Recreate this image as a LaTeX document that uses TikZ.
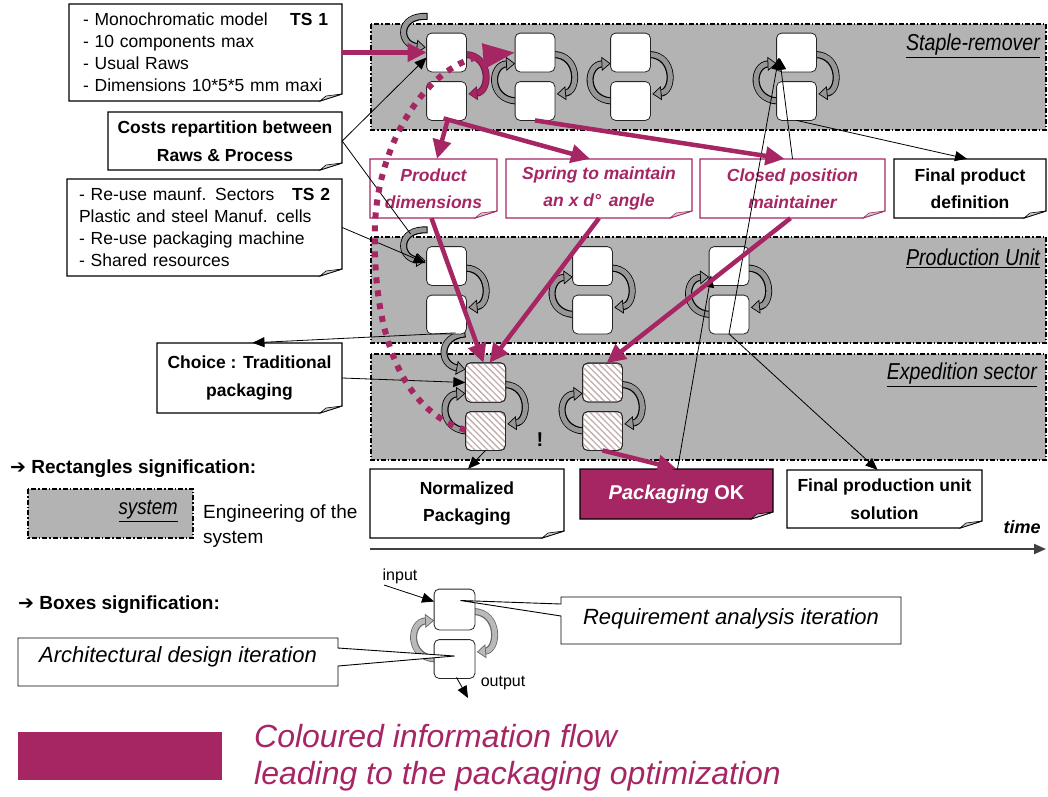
\documentclass[tikz,border=0pt]{standalone}
\usepackage{fontspec}
\setmainfont{Liberation Sans}
\newfontfamily\narrowfont[FakeStretch=0.85]{Liberation Sans}
\newfontfamily\symfont{DejaVu Sans}
\usetikzlibrary{arrows.meta,calc,patterns.meta}
\definecolor{mag}{RGB}{166,38,100}
\definecolor{bandgray}{RGB}{179,179,179}
\definecolor{ribgray}{RGB}{150,150,150}
\definecolor{hatch}{RGB}{195,172,172}
\definecolor{foldgray}{RGB}{205,205,205}
\newcommand\fs[2]{\fontsize{#1}{#2}\selectfont}
% ribbon arrow: fill, outline, start, c1, c2, end (coordinate names)
\newcommand\rib[6]{%
  \draw[line width=7pt, #2, shorten >=8pt] (#3) .. controls (#4) and (#5) .. (#6);
  \draw[line width=5pt, #1, shorten >=8.6pt, shorten <=1pt] (#3) .. controls (#4) and (#5) .. (#6);
  \draw[line width=0.7pt, #2, -{Triangle[length=9pt,width=14pt,fill=#1]}] ($(#6)!9pt!(#5)$) -- (#6);
}
\newcommand\cycR[4]{% top, bottom, fill, outline
  \coordinate (rs) at ($(#1.east)+(-1,2)$);
  \coordinate (rc1) at ($(#1.east)+(25,3)$);
  \coordinate (rc2) at ($(#2.east)+(24,-9)$);
  \coordinate (re) at ($(#2.east)+(2,-7)$);
  \rib{#3}{#4}{rs}{rc1}{rc2}{re}}
\newcommand\cycL[4]{%
  \coordinate (ls) at ($(#2.west)+(1,0)$);
  \coordinate (lc1) at ($(#2.west)+(-27,-2)$);
  \coordinate (lc2) at ($(#1.west)+(-25,12)$);
  \coordinate (le) at ($(#1.west)+(0,11)$);
  \rib{#3}{#4}{ls}{lc1}{lc2}{le}}
\newcommand\hook[1]{%
  \coordinate (hs) at ($(#1.west)+(1,-36)$);
  \coordinate (hc1) at ($(#1.west)+(-29,-38)$);
  \coordinate (hc2) at ($(#1.west)+(-29,-8)$);
  \coordinate (he) at ($(#1.west)+(-1,-5)$);
  \rib{ribgray}{black}{hs}{hc1}{hc2}{he}}
% note with folded corner: name, x1, y1, x2, y2, path style, node style, text
\newcommand\notebox[8]{%
  \path[#6] (#2,#3) -- (#4,#3) -- (#4,#5-7) -- (#4-22,#5) -- (#2,#5) -- cycle;
  \path[#6, fill=foldgray, line width=0.6pt] (#4-22,#5) -- (#4,#5-7) -- (#4-16,#5-5) -- cycle;
  \node[inner sep=0pt, minimum width={#4-#2}, minimum height={#5-#3}, #7] (#1) at ({(#2+#4)/2},{(#3+#5)/2}) {#8};
}
\begin{document}
\begin{tikzpicture}[x=1pt,y=-1pt,
  band/.style={fill=bandgray, draw=black, line width=1.2pt, dash pattern=on 5pt off 2pt on 1.5pt off 2pt},
  wbox/.style={draw=black!85, line width=0.8pt, fill=white, rounded corners=5pt, minimum width=39pt, minimum height=38pt, inner sep=0pt},
  hbox/.style={wbox, preaction={fill=white}, pattern={Lines[angle=-45,distance=4.5pt,line width=1.3pt]}, pattern color=hatch},
  lbox/.style={draw=black!85, line width=0.8pt, fill=white, rounded corners=5pt, minimum width=40pt, minimum height=40pt, inner sep=0pt},
  blk/.style={draw=black, line width=1.1pt, fill=white},
  mg/.style={draw=mag, line width=1.1pt, fill=white},
  tsnote/.style={font=\fs{17.5}{22}, align=left},
  bnote/.style={font=\fs{17.5}{27.5}\bfseries, align=center},
  mnote/.style={font=\fs{17.5}{26.5}\bfseries\itshape, text=mag, align=center},
  bandlabel/.style={font=\narrowfont\fs{23}{26}\itshape, anchor=east, inner sep=0pt},
  thinar/.style={draw=black, line width=0.8pt, -{Triangle[length=12pt,width=10pt]}},
  thinln/.style={draw=black, line width=0.8pt},
  magar/.style={draw=mag, line width=4.5pt, -{Triangle[length=19pt,width=18pt]}},
]
\useasboundingbox (0,0) rectangle (1048,796);

% ---------- bands ----------
\path[band] (371,24) rectangle (1046,130);
\path[band] (371,237) rectangle (1046,343);
\path[band] (371,354) rectangle (1046,460);
\node[bandlabel] (lbl1) at (1040,46) {\underline{Staple-remover}};
\node[bandlabel] (lbl2) at (1040,258) {\underline{Production Unit}};
\node[bandlabel] (lbl3) at (1037,375) {\underline{Expedition sector}};

% ---------- boxes ----------
\node[wbox] (s1t) at (446.5,52.5) {};
\node[wbox] (s1b) at (446.5,101) {};
\node[wbox] (s2t) at (535,52.5) {};
\node[wbox] (s2b) at (535,101) {};
\node[wbox] (s3t) at (630.5,52.5) {};
\node[wbox] (s3b) at (630.5,101) {};
\node[wbox] (s4t) at (796.5,52.5) {};
\node[wbox] (s4b) at (796.5,101) {};
\node[wbox] (p1t) at (446.5,266) {};
\node[wbox] (p1b) at (446.5,314.5) {};
\node[wbox] (p2t) at (592.5,266) {};
\node[wbox] (p2b) at (592.5,314.5) {};
\node[wbox] (p3t) at (729,266) {};
\node[wbox] (p3b) at (729,314.5) {};
\node[hbox] (e1t) at (485.5,382.5) {};
\node[hbox] (e1b) at (485.5,431) {};
\node[hbox] (e2t) at (602.5,382.5) {};
\node[hbox] (e2b) at (602.5,431) {};

% ---------- ribbons ----------
\hook{s1t}
\cycR{s1t}{s1b}{mag}{mag!70!black}
\cycL{s2t}{s2b}{ribgray}{black}\cycR{s2t}{s2b}{ribgray}{black}
\cycL{s3t}{s3b}{ribgray}{black}\cycR{s3t}{s3b}{ribgray}{black}
\cycL{s4t}{s4b}{ribgray}{black}\cycR{s4t}{s4b}{ribgray}{black}
\hook{p1t}
\cycR{p1t}{p1b}{ribgray}{black}
\cycL{p2t}{p2b}{ribgray}{black}\cycR{p2t}{p2b}{ribgray}{black}
\cycL{p3t}{p3b}{ribgray}{black}\cycR{p3t}{p3b}{ribgray}{black}
\coordinate (ds) at ($(p1b.south east)+(-1,0)$);
\coordinate (dc1) at ($(p1b.south east)+(-28,2)$);
\coordinate (dc2) at ($(e1t.west)+(-27,-18)$);
\coordinate (de) at ($(e1t.west)+(0,-13)$);
\rib{ribgray}{black}{ds}{dc1}{dc2}{de}
\cycL{e1t}{e1b}{ribgray}{black}\cycR{e1t}{e1b}{ribgray}{black}
\cycL{e2t}{e2b}{ribgray}{black}\cycR{e2t}{e2b}{ribgray}{black}

% redraw boxes on top of ribbon starts
\foreach \n in {s1t,s1b,s2t,s2b,s3t,s3b,s4t,s4b,p1t,p1b,p2t,p2b,p3t,p3b}{
  \draw[draw=black!85, line width=0.8pt, fill=white, rounded corners=5pt] (\n.south west) rectangle (\n.north east);}
\foreach \n in {e1t,e1b,e2t,e2b}{
  \draw[draw=black!85, line width=0.8pt, fill=white, rounded corners=5pt] (\n.south west) rectangle (\n.north east);
  \path[pattern={Lines[angle=-45,distance=4.5pt,line width=1.3pt]}, pattern color=hatch, rounded corners=5pt] (\n.south west) rectangle (\n.north east);
  \draw[draw=black!85, line width=0.8pt, rounded corners=5pt] (\n.south west) rectangle (\n.north east);}

\node[font=\fs{20}{24}\bfseries] (excl) at (540,440) {!};

% ---------- notes ----------
\notebox{ts1}{69}{4}{342}{101}{blk}{tsnote, text width=245pt}{- Monochromatic model\hfill\textbf{TS 1}\hspace*{14pt}\\- 10 components max\\- Usual Raws\\- Dimensions 10*5*5 mm maxi}
\notebox{costs}{108}{112}{342}{170}{blk}{bnote}{Costs repartition between\\Raws \& Process}
\notebox{ts2}{67}{179}{342}{276}{blk}{tsnote, text width=251pt}{- Re-use maunf. Sectors\hfill\textbf{TS 2}\hspace*{9pt}\\Plastic and steel Manuf. cells\\- Re-use packaging machine\\- Shared resources}
\notebox{choice}{157}{343}{342}{413}{blk}{bnote}{Choice : Traditional\\packaging}
\notebox{pdim}{370}{159}{497}{218}{mg}{mnote}{Product\\dimensions}
\notebox{spring}{506}{159}{692}{218}{mg}{mnote}{Spring to maintain\\an x d°\, angle}
\notebox{closed}{700}{159}{885}{218}{mg}{mnote}{Closed position\\maintainer}
\notebox{fpd}{894}{159}{1046}{218}{blk}{bnote}{Final product\\definition}
\notebox{norm}{370}{469}{564}{538}{blk}{bnote}{Normalized\\Packaging}
\notebox{packok}{580}{469}{773}{519}{draw=black, line width=1.1pt, fill=mag}{font=\fs{20}{24}\bfseries, text=white}{\textit{Packaging} OK}
\notebox{fpu}{787}{470}{982}{528}{blk}{bnote}{Final production unit\\solution}

% ---------- black connectors ----------
\draw[thinar] (costs.east) -- ($(s1t.west)+(0,5)$);
\draw[thinln] (costs.east) -- ($(p1t.west)+(-16,-32)$);
\draw[thinar] (ts2.east) -- ($(p1t.west)+(-1,-3)$);
\draw[thinar] ($(p1b.south)+(9,-1)$) -- ($(choice.north)+(3,0)$);
\draw[thinar] (choice.east) -- (e1t.west);
\draw[thinar] (e1b.south) -- ($(norm.north)+(1,0)$);
\draw[thinar] ($(packok.north)+(1,0)$) -- ($(p3t.south west)+(2,-10)$);
\draw[thinar] (p3b.south) -- ($(s4t.south west)+(2,-14)$);
\draw[thinar] (closed.north) -- ($(s4t.south west)+(3,-14)$);
\draw[thinar] (p3b.south) -- ($(fpu.north)+(-7,0)$);
\draw[thinar] (s4b.south) -- ($(fpd.north)+(-3,0)$);

% ---------- magenta connectors ----------
\draw[magar] (ts1.east |- s1t.west) -- (s1t.west);
\draw[magar] ($(s1b.south)+(1,0)$) -- ($(pdim.north)+(3.5,0)$);
\draw[magar] ($(s1b.south)+(-3,-2)$) -- ($(spring.north)+(-9,0)$);
\draw[magar] (s2b.south) -- ($(closed.north)+(-8,0)$);
\draw[magar] ($(pdim.south)+(-2,0)$) -- ($(e1t.north)+(-2,0)$);
\draw[magar] (spring.south) -- ($(e1t.north)+(4,0)$);
\draw[magar] ($(closed.south)+(-2,0)$) -- ($(e2t.north)+(4,0)$);
\draw[magar] (e2b.south) -- (packok.north);
\coordinate (dotstart) at ($(e1b.west)+(0,-1)$);
\coordinate (dotmid) at (375,225);
\draw[mag, line width=6pt, dash pattern=on 6pt off 7pt, -{Triangle[length=32pt,width=24pt]}]
  (dotstart) .. controls (400,410) and (372,330) .. (dotmid)
  .. controls (378,140) and (430,62) .. (s2t.west);

% ---------- time axis ----------
\coordinate (t0) at (370,549);
\coordinate (t1) at (1046,549);
\draw[draw=black!75, line width=2pt, -{Triangle[length=12pt,width=10pt]}] (t0) -- (t1);
\node[font=\fs{18}{22}\bfseries\itshape] (time) at (1022,527) {time};

% ---------- legend: rectangles ----------
\node[font=\fs{19}{23}\bfseries, anchor=west, inner sep=0pt] (rectsig) at (10,469) {{\symfont ➔} Rectangles signification:};
\path[band] (28,489) rectangle (193,538);
\node[bandlabel, font=\narrowfont\fs{22}{24}\itshape] (syslbl) at (178,511) {\underline{system}};
\node[font=\fs{19}{25}, anchor=north west, align=left, inner sep=0pt] (eng) at (203,505) {Engineering of the\\system};

% ---------- legend: boxes ----------
\node[font=\fs{19}{23}\bfseries, anchor=west, inner sep=0pt] (boxsig) at (18,605) {{\symfont ➔} Boxes signification:};
\node[lbox] (lt) at (454.5,609.5) {};
\node[lbox, minimum height=38pt] (lb) at (454.5,659) {};
\cycL{lt}{lb}{gray!55}{gray!80!black}
\cycR{lt}{lb}{gray!55}{gray!80!black}
\draw[draw=black!85, line width=0.8pt, fill=white, rounded corners=5pt] (lt.south west) rectangle (lt.north east);
\draw[draw=black!85, line width=0.8pt, fill=white, rounded corners=5pt] (lb.south west) rectangle (lb.north east);
\node[font=\fs{16}{19}] (inlbl) at (400,576) {input};
\coordinate (inp) at (384,585);
\draw[thinar] (inp) -- ($(lt.west)+(0,-8)$);
\node[font=\fs{16}{19}] (outlbl) at (503,683) {output};
\coordinate (outp) at (468,698);
\draw[thinar] ($(lb.south)+(2,-1)$) -- (outp);
% callouts
\coordinate (rqp) at ($(lt.center)+(6,-9)$);
\draw[line width=0.9pt, fill=white] (561,597) -- (901,597) -- (901,644) -- (561,644) -- (561,616) -- (rqp) -- (561,604) -- cycle;
\node[font=\fs{22}{26}\itshape] (req) at (731,619) {Requirement analysis iteration};
\coordinate (arp) at ($(lb.center)+(0,-3)$);
\draw[line width=0.9pt, fill=white] (18,638) -- (338,638) -- (338,648) -- (arp) -- (338,666) -- (338,686) -- (18,686) -- cycle;
\node[font=\fs{22}{26}\itshape] (arch) at (178,657) {Architectural design iteration};

% ---------- legend: colour ----------
\path[fill=mag] (18,732) rectangle (222,780);
\node[font=\fs{32}{37}\itshape, text=mag, anchor=north west, align=left, inner sep=0pt] (colour) at (254,724) {Coloured information flow\\leading to the packaging optimization};
\end{tikzpicture}
\end{document}
